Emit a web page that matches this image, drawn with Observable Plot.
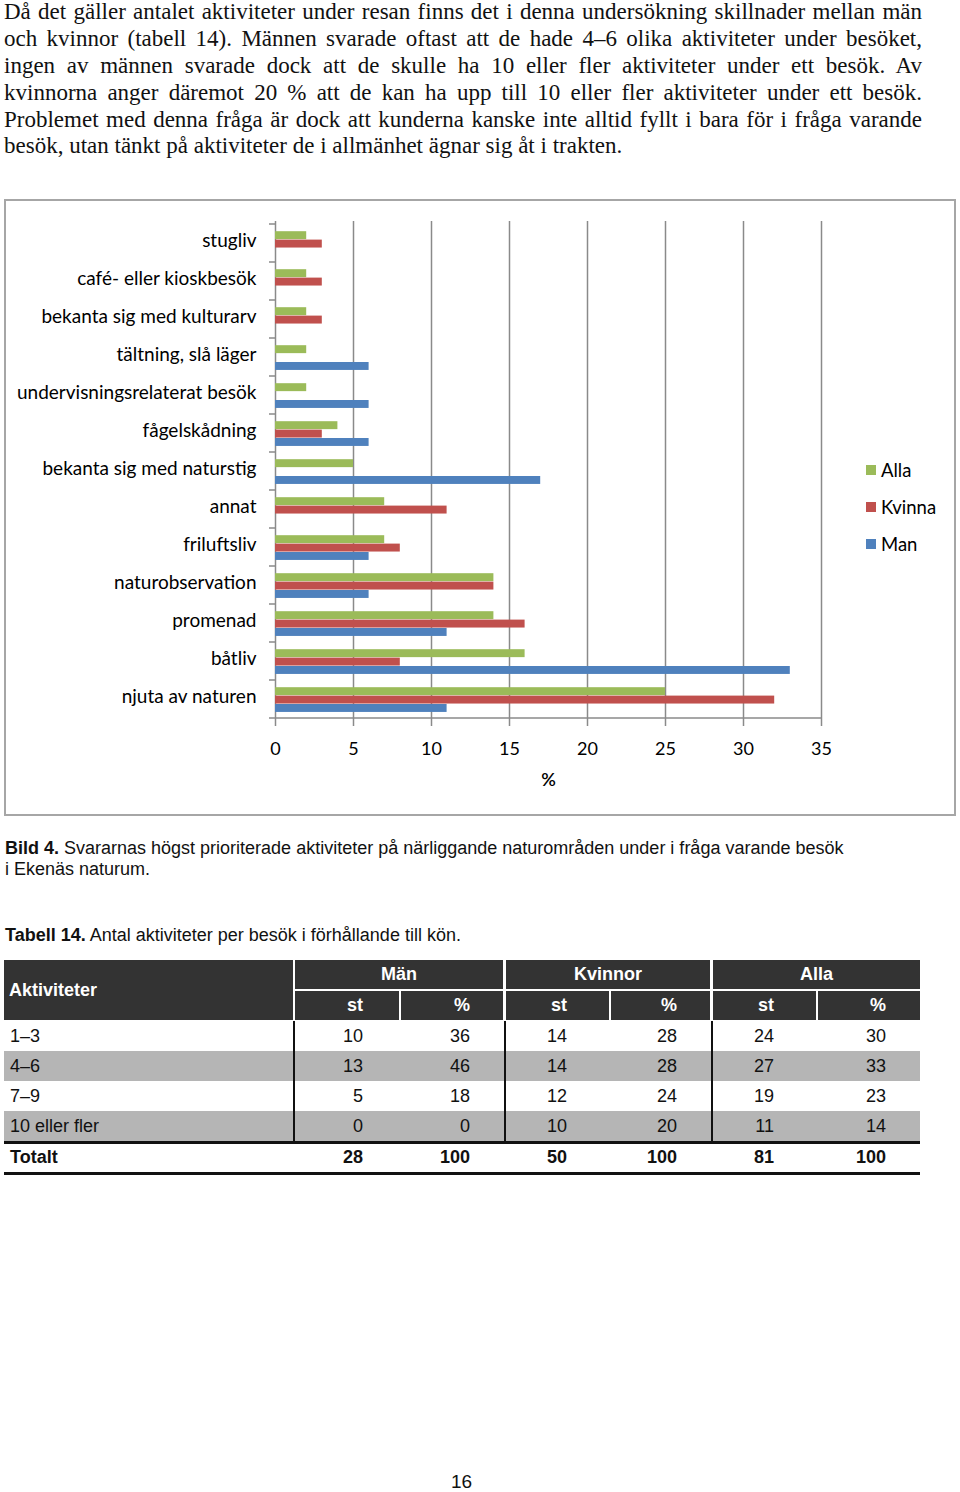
<!DOCTYPE html>
<html>
<head>
<meta charset="utf-8">
<script src="https://cdn.jsdelivr.net/npm/d3@7"></script>
<script src="https://cdn.jsdelivr.net/npm/@observablehq/plot@0.6"></script>
<style>
  html, body { margin: 0; padding: 0; background: #fff; }
  body { position: relative; width: 960px; height: 1492px; overflow: hidden; }
  .para { position: absolute; left: 4px; width: 918px; font-family: "Liberation Serif", "Times New Roman", serif; font-size: 23px; line-height: 26.8px; color: #111; }
  .para div { text-align: justify; text-align-last: justify; height: 26.8px; }
  .para div.last { text-align-last: left; }
  .box { position: absolute; left: 4px; top: 199px; width: 952px; height: 617px; box-sizing: border-box; border: 2px solid #a6a6a6; }
  #chart { position: absolute; left: 0; top: 199px; width: 960px; height: 616px; }
  .legend { position: absolute; font-family: Lato, sans-serif; font-size: 18.5px; color: #000; }
  .legend .item { position: absolute; left: 0; white-space: nowrap; }
  .legend .sw { position: absolute; width: 10px; height: 10px; left: 0; }
  .legend .lbl { position: absolute; left: 15px; line-height: 20px; }
  .sans { position: absolute; font-family: "Liberation Sans", Arial, sans-serif; font-size: 18px; color: #111; white-space: nowrap; }
  .cell { position: absolute; box-sizing: border-box; font-family: "Liberation Sans", Arial, sans-serif; font-size: 18px; white-space: nowrap; display: flex; align-items: center; }
</style>
</head>
<body>
<div class="para" id="para" style="top:-0.7px"></div>
<div class="box"></div>
<div id="chart"></div>
<div class="legend" id="legend" style="left:866px; top:0"></div>
<div class="sans" style="left:5px; top:838px; line-height:21px;"><b>Bild 4.</b> Svararnas högst prioriterade aktiviteter på närliggande naturområden under i fråga varande besök<br>i Ekenäs naturum.</div>
<div class="sans" style="left:5px; top:925px; line-height:21px;"><b>Tabell 14.</b> Antal aktiviteter per besök i förhållande till kön.</div>
<div id="table"></div>
<div class="sans" style="left:451px; top:1471px; font-size:19px; line-height:22px;">16</div>
<script>
// ---------- text ----------
const paragraphLines = [
  "Då det gäller antalet aktiviteter under resan finns det i denna undersökning skillnader mellan män",
  "och kvinnor (tabell 14). Männen svarade oftast att de hade 4–6 olika aktiviteter under besöket,",
  "ingen av männen svarade dock att de skulle ha 10 eller fler aktiviteter under ett besök. Av",
  "kvinnorna anger däremot 20 % att de kan ha upp till 10 eller fler aktiviteter under ett besök.",
  "Problemet med denna fråga är dock att kunderna kanske inte alltid fyllt i bara för i fråga varande",
  "besök, utan tänkt på aktiviteter de i allmänhet ägnar sig åt i trakten."
];

// ---------- chart data ----------
const categories = [
  "stugliv",
  "café- eller kioskbesök",
  "bekanta sig med kulturarv",
  "tältning, slå läger",
  "undervisningsrelaterat besök",
  "fågelskådning",
  "bekanta sig med naturstig",
  "annat",
  "friluftsliv",
  "naturobservation",
  "promenad",
  "båtliv",
  "njuta av naturen"
];
const alla   = [2, 2, 2, 2, 2, 4, 5, 7, 7, 14, 14, 16, 25];
const kvinna = [3, 3, 3, 0, 0, 3, 0, 11, 8, 14, 16, 8, 32];
const man    = [0, 0, 0, 6, 6, 6, 17, 0, 6, 6, 11, 33, 11];
const seriesNames = ["Alla", "Kvinna", "Man"];
const seriesColors = ["#9BBB59", "#C0504D", "#4F81BD"];
const xTicks = [0, 5, 10, 15, 20, 25, 30, 35];
const xLabel = "%";

// ---------- table data ----------
const tableGroups = ["Män", "Kvinnor", "Alla"];
const tableSub = ["st", "%"];
const tableRowLabels = ["1–3", "4–6", "7–9", "10 eller fler"];
const manSt   = [10, 13, 5, 0];
const manPct  = [36, 46, 18, 0];
const kvSt    = [14, 14, 12, 10];
const kvPct   = [28, 28, 24, 20];
const allaSt  = [24, 27, 19, 11];
const allaPct = [30, 33, 23, 14];
const totalLabel = "Totalt";
const totals = [28, 100, 50, 100, 81, 100];

// paragraph
const para = document.getElementById("para");
paragraphLines.forEach((t, i) => {
  const d = document.createElement("div");
  d.textContent = t;
  if (i === paragraphLines.length - 1) d.className = "last";
  para.appendChild(d);
});

// chart
const W = 960, H = 616, mt = 22, mb = 94, ml = 275, mr = 139;
const step = (H - mt - mb) / categories.length;
const barTop = 7.2, barH = 8.4;
const values = [alla, kvinna, man];
const data = categories.flatMap((c, i) => seriesNames.map((s, k) => ({c, s, v: values[k][i]})));

const chart = Plot.plot({
  width: W, height: H,
  marginTop: mt, marginBottom: mb, marginLeft: ml, marginRight: mr,
  style: {fontFamily: "Lato, sans-serif", fontSize: "18px", color: "#000", background: "transparent", overflow: "visible"},
  x: {domain: [0, 35], label: null},
  y: {domain: categories, padding: 0, label: null},
  marks: [
    Plot.gridX(xTicks.filter(t => t > 0), {stroke: "#8a8a8a", strokeOpacity: 1, strokeWidth: 1.5}),
    Plot.ruleX([0], {stroke: "#8a8a8a", strokeWidth: 1.5}),
    ...seriesNames.map((s, k) => Plot.barX(data.filter(d => d.s === s), {
      x: "v", y: "c", fill: seriesColors[k],
      insetTop: barTop + k * barH,
      insetBottom: step - barTop - (k + 1) * barH
    })),
    Plot.axisX({ticks: xTicks, tickSize: 5, tickPadding: 16, stroke: "#8a8a8a", strokeWidth: 1.5, fill: "#000", label: null, fontSize: 18}),
    Plot.axisY({tickSize: 0, tickPadding: 19, dy: -2.5, label: null, fill: "#000", fontSize: 19, textAnchor: "end"}),
    Plot.text([xLabel], {frameAnchor: "bottom", dy: 64, fontWeight: 600, fontSize: 18, fill: "#000"})
  ]
});

// axis line and category boundary ticks via scales
const ys = chart.scale("y");
const xs = chart.scale("x");
const svg = d3.select(chart);
const bounds = categories.map(c => ys.apply(c)).concat([ys.apply(categories[categories.length - 1]) + ys.bandwidth]);
const g = svg.append("g").attr("stroke", "#8a8a8a").attr("stroke-width", 1.5);
bounds.forEach(y => g.append("line").attr("x1", xs.apply(0) - 6).attr("x2", xs.apply(0)).attr("y1", y).attr("y2", y));
const yb = bounds[bounds.length - 1];
g.append("line").attr("x1", xs.apply(0)).attr("x2", xs.apply(35) + 1).attr("y1", yb).attr("y2", yb);
document.getElementById("chart").appendChild(chart);

// legend
const legend = document.getElementById("legend");
seriesNames.forEach((s, k) => {
  const it = document.createElement("div");
  it.className = "item";
  it.style.top = (460 + k * 37) + "px";
  it.innerHTML = `<div class="sw" style="top:5px;background:${seriesColors[k]}"></div><div class="lbl">${s}</div>`;
  legend.appendChild(it);
});

// table
const tbl = document.getElementById("table");
function cell(x, y, w, h, txt, o = {}) {
  const d = document.createElement("div");
  d.className = "cell";
  d.style.left = x + "px"; d.style.top = y + "px";
  d.style.width = w + "px"; d.style.height = h + "px";
  if (o.bg) d.style.background = o.bg;
  d.style.color = o.color || "#111";
  if (o.bold) d.style.fontWeight = "bold";
  d.style.justifyContent = o.align || "flex-start";
  if (o.pl != null) d.style.paddingLeft = o.pl + "px";
  if (o.pr != null) d.style.paddingRight = o.pr + "px";
  d.textContent = txt;
  tbl.appendChild(d);
  return d;
}
const hdr = "#333333";
const colX = [[295, 399], [401, 503], [506, 609], [611, 710], [713, 816], [818, 920]];
const rightEdge = [363, 470, 567, 677, 774, 886];
const groupX = [[295, 503], [506, 710], [713, 920]];
cell(4, 960, 289, 60, "Aktiviteter", {bg: hdr, color: "#fff", bold: true, pl: 5});
tableGroups.forEach((gname, i) => cell(groupX[i][0], 960, groupX[i][1] - groupX[i][0], 29, gname, {bg: hdr, color: "#fff", bold: true, align: "center"}));
colX.forEach((c, i) => cell(c[0], 991, c[1] - c[0], 29, tableSub[i % 2], {bg: hdr, color: "#fff", bold: true, align: "flex-end", pr: c[1] - rightEdge[i]}));
const cols = [manSt, manPct, kvSt, kvPct, allaSt, allaPct];
tableRowLabels.forEach((lab, r) => {
  const y = 1021 + r * 30;
  const bg = r % 2 === 1 ? "#b5b5b5" : "#fff";
  cell(4, y, 916, 30, "", {bg});
  cell(4, y, 289, 30, lab, {pl: 6});
  cols.forEach((arr, i) => cell(colX[i][0], y, colX[i][1] - colX[i][0], 30, String(arr[r]), {align: "flex-end", pr: colX[i][1] - rightEdge[i]}));
});
// vertical lines
[293, 504, 711].forEach(x => cell(x, 1021, 2, 120, "", {bg: "#111"}));
cell(4, 1141, 916, 2.5, "", {bg: "#111"});
cell(4, 1143, 289, 29, totalLabel, {bold: true, pl: 6});
totals.forEach((v, i) => cell(colX[i][0], 1143, colX[i][1] - colX[i][0], 29, String(v), {bold: true, align: "flex-end", pr: colX[i][1] - rightEdge[i]}));
cell(4, 1172, 916, 2.5, "", {bg: "#111"});
</script>
</body>
</html>
